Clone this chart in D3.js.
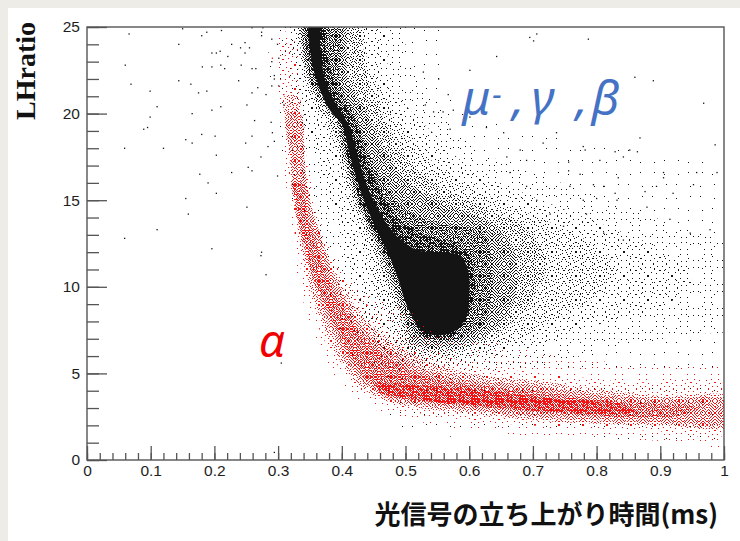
<!DOCTYPE html>
<html><head><meta charset="utf-8">
<script src="https://cdn.jsdelivr.net/npm/d3@7"></script>
<style>html,body{margin:0;padding:0;background:#fff;overflow:hidden}</style>
</head><body>
<svg id="c" width="740" height="541"></svg>
<script>
// ---------------- DATA ----------------
const xTickValues = [0,0.1,0.2,0.3,0.4,0.5,0.6,0.7,0.8,0.9,1];
const xTickLabels = ["0","0.1","0.2","0.3","0.4","0.5","0.6","0.7","0.8","0.9","1"];
const yTickValues = [0,5,10,15,20,25];
const yTickLabels = ["0","5","10","15","20","25"];
const xTitle = "光信号の立ち上がり時間(ms)";
const yTitle = "LHratio";

// density regions: [level, outline [[x,y],...]] ; level = point density (1 sparse ... 9 solid)
const blackRegions = [
  [1, [[.30,25.4],[.30,19],[.32,15],[.35,12],[.38,9],[.41,6.5],[.44,4.5],[.48,3.8],[.60,4.5],[.75,5.0],[.90,5.3],[1.01,5.3],[1.01,16.5],[.90,17.5],[.78,18.5],[.68,19.2],[.60,20],[.56,22],[.55,25.4]]],
  [1, [[.48,1.8],[.70,1.6],[1.01,1.5],[1.01,4.2],[.80,4.2],[.60,4.6],[.48,4.2]]],
  [2, [[.315,25.4],[.32,21],[.33,18],[.345,15],[.36,13],[.38,11],[.40,9],[.415,7.5],[.43,6.3],[.46,5.2],[.55,4.8],[.65,5.2],[.75,5.8],[.85,6.6],[.95,7.3],[1.01,7.6],[1.01,12.3],[.93,13.5],[.85,14.5],[.76,15.8],[.68,16.8],[.62,17.8],[.58,19],[.55,20.5],[.52,22],[.50,24],[.50,25.4]]],
  [3, [[.325,25.4],[.33,22],[.34,19.5],[.36,17.5],[.38,15.5],[.395,13.5],[.41,11.5],[.425,9.5],[.44,8],[.455,6.8],[.48,5.8],[.55,5.4],[.63,5.8],[.72,6.8],[.80,7.8],[.90,8.8],[.95,10.3],[.92,11.8],[.85,13],[.76,14.3],[.68,15.5],[.62,16.5],[.58,17.5],[.54,19],[.50,20.5],[.475,22],[.46,25.4]]],
  [4, [[.335,25.4],[.342,22],[.355,20.5],[.38,19],[.395,17.5],[.405,15.5],[.425,13.5],[.44,11.5],[.455,9.5],[.47,8.3],[.48,7.3],[.49,6.3],[.53,5.8],[.60,6.0],[.66,6.7],[.72,7.8],[.80,9.5],[.83,11],[.80,12.3],[.74,13.5],[.67,14.6],[.60,15.8],[.55,17],[.51,18.5],[.48,20],[.46,21.5],[.44,23],[.43,25.4]]],
  [5, [[.338,25.4],[.346,22],[.36,20.5],[.386,19],[.40,17.5],[.41,15.8],[.43,13.9],[.452,12],[.47,10.3],[.482,9],[.495,7.8],[.505,6.6],[.53,6.2],[.58,6.3],[.63,7.0],[.67,8.0],[.70,9.3],[.72,11],[.71,12.4],[.68,13.6],[.62,14.6],[.55,15.8],[.50,17.5],[.47,19.5],[.44,22],[.42,25.4]]],
  [6, [[.341,25.4],[.348,22],[.362,21],[.39,19.6],[.403,17.7],[.415,15.8],[.435,13.9],[.457,12.2],[.475,10.5],[.488,9],[.50,7.8],[.51,6.8],[.53,6.5],[.58,6.6],[.63,7.3],[.66,8.5],[.675,10],[.67,12],[.63,13.8],[.56,14.8],[.50,16.2],[.465,18],[.44,20],[.41,22],[.40,25.4]]],
  [7, [[.343,25.4],[.350,22],[.364,21],[.392,19.6],[.406,17.7],[.419,15.8],[.439,13.9],[.462,12.2],[.478,10.8],[.49,9.5],[.502,8.3],[.515,7.3],[.535,6.9],[.56,6.8],[.60,7.2],[.625,8],[.635,9.5],[.635,11.5],[.62,13.2],[.56,13.6],[.50,14.5],[.465,16],[.44,18],[.42,20],[.395,22],[.375,25.4]]],
  [7, [[.378,25.4],[.394,25.4],[.396,22],[.392,20.6],[.384,21.5],[.379,23]]],
  [8, [[.345,25.4],[.350,23],[.357,22],[.366,21.3],[.380,20.3],[.395,19.6],[.408,17.7],[.421,15.8],[.441,13.9],[.46,12.6],[.47,11.9],[.483,11],[.493,10],[.502,9],[.515,8.1],[.522,7.3],[.54,7.0],[.57,7.1],[.59,7.8],[.605,9],[.61,10.5],[.60,11.8],[.58,12.5],[.53,13],[.49,13.9],[.457,15.8],[.437,17.7],[.42,19.6],[.408,20.3],[.392,21.3],[.385,22.2],[.374,24],[.372,25.4]]],
  [9, [[.350,25.4],[.353,23],[.360,22],[.370,21],[.385,20],[.400,19.4],[.412,17.7],[.427,15.8],[.447,13.9],[.468,12.3],[.48,11.3],[.49,10.3],[.498,9.3],[.51,8.3],[.525,7.5],[.545,7.2],[.575,7.4],[.595,8.2],[.60,9.5],[.598,11],[.585,11.8],[.55,12],[.52,12.1],[.49,12.8],[.466,13.9],[.440,15.8],[.424,17.7],[.410,19.4],[.395,20.3],[.380,21.3],[.372,22.2],[.366,24],[.364,25.4]]]
];
const redRegions = [
  [2, [[.30,24.6],[.325,24.6],[.335,22],[.342,19],[.352,16],[.365,14],[.385,12],[.41,10.5],[.45,9.5],[.50,8.8],[.55,7.2],[.62,6.9],[.75,6.0],[.88,5.4],[1.01,5.0],[1.01,1.0],[.90,1.1],[.80,1.3],[.65,1.5],[.55,2.0],[.47,2.7],[.42,3.5],[.39,4.8],[.365,6.5],[.345,8.5],[.33,10.5],[.322,13],[.312,16],[.305,19],[.30,22]]],
  [3, [[.305,24.3],[.325,24.2],[.333,21.5],[.34,19],[.35,16],[.362,14],[.38,12],[.40,10.8],[.43,9.5],[.46,8],[.50,7.0],[.55,6.2],[.62,5.4],[.72,5.0],[.85,4.5],[1.01,4.3],[1.01,1.6],[.88,1.7],[.75,1.9],[.62,2.2],[.54,2.6],[.48,3.0],[.44,3.6],[.41,4.6],[.385,6.0],[.36,8.0],[.343,10],[.33,12],[.322,14.5],[.315,17],[.31,19.5],[.307,22]]],
  [5, [[.31,21],[.33,21],[.338,18],[.347,15.5],[.36,13.5],[.375,12],[.39,10.8],[.41,9.5],[.44,8],[.48,6.8],[.53,5.8],[.60,5.0],[.70,4.6],[.80,4.1],[.90,3.7],[1.01,3.6],[1.01,2.0],[.90,2.0],[.80,2.1],[.70,2.3],[.60,2.7],[.52,3.0],[.47,3.4],[.43,4.2],[.405,5.3],[.385,6.6],[.365,8.3],[.35,10],[.338,12],[.328,14],[.32,16.5],[.314,19]]],
  [6, [[.314,20],[.334,20],[.342,17],[.35,15],[.362,13.5],[.377,11.7],[.395,10],[.42,8.3],[.45,7.0],[.49,6.0],[.54,5.1],[.60,4.6],[.70,4.3],[.80,3.8],[.90,3.5],[1.01,3.4],[1.01,2.2],[.90,2.2],[.80,2.3],[.70,2.5],[.60,2.9],[.52,3.2],[.47,3.6],[.44,4.3],[.415,5.3],[.395,6.7],[.375,8.3],[.358,10],[.345,11.8],[.335,13.5],[.327,15.5],[.32,17.5]]],
  [7, [[.322,16],[.338,16],[.347,14],[.358,12.8],[.37,11.3],[.385,10],[.405,8.6],[.43,7.3],[.46,6.2],[.50,5.3],[.55,4.7],[.62,4.3],[.72,3.9],[.82,3.4],[.92,3.2],[.96,3.0],[.92,2.5],[.82,2.5],[.72,2.75],[.62,3.05],[.54,3.35],[.48,3.75],[.45,4.3],[.425,5.3],[.405,6.5],[.385,8],[.37,9.3],[.355,10.5],[.343,12],[.333,13.5],[.326,15]]],
  [8, [[.455,4.4],[.52,4.3],[.60,4.1],[.68,3.8],[.76,3.45],[.84,3.2],[.86,2.8],[.80,2.65],[.72,2.8],[.64,3.05],[.56,3.3],[.49,3.6],[.46,3.9]]]
];
// isolated points [x, y]
const blackPoints = [
  [.066,24.6],[.060,22.8],[.069,21.7],[.099,21.3],[.110,20.4],[.099,19.8],[.089,19.1],[.095,19.2],[.059,18.0],[.120,18.0],
  [.110,13.3],[.059,12.8],[.150,24.9],[.144,24.0],[.144,21.9],[.163,21.7],[.165,20.0],[.155,18.5],[.165,18.3],[.155,15.1],
  [.159,14.2],[.180,24.5],[.188,24.7],[.211,24.8],[.196,23.5],[.203,23.5],[.209,23.6],[.181,22.7],[.196,22.7],[.210,22.8],
  [.216,22.6],[.175,21.2],[.188,21.3],[.196,20.2],[.210,20.4],[.180,18.8],[.201,18.7],[.203,17.6],[.177,16.5],[.190,16.0],
  [.203,15.4],[.196,12.2],[.227,24.0],[.241,23.8],[.248,24.1],[.255,23.8],[.248,23.5],[.221,23.3],[.242,22.8],[.259,22.6],
  [.265,22.6],[.238,21.9],[.259,21.2],[.268,21.5],[.251,20.5],[.263,19.6],[.259,18.7],[.249,18.3],[.273,17.5],[.227,16.6],
  [.253,16.9],[.259,16.7],[.251,14.6],[.274,12.0],[.273,11.8],[.281,10.7],[.305,5.6],[.259,24.96],[.276,24.96],[.274,24.7],
  [.274,24.5],[.290,24.3],[.299,24.0],[.290,23.0],[.301,23.2],[.294,22.2],[.294,22.0],[.290,21.6],[.301,21.6],[.281,21.1],
  [.289,19.5],[.291,18.9],[.294,18.4],[.284,18.1],[.309,20.5],[.299,16.4],[.294,0.44],
  [.695,24.4],[.701,24.2],[.706,24.6],[.787,24.3],[.643,23.3],[.601,22.5],[.528,22.4],[.552,22.0],[.860,22.1],[.889,21.9],
  [.968,20.6],[.986,18.2],[.989,16.6],[.868,18.6],[.852,17.9],[.842,17.5],[.805,17.3],[.737,18.9],[.779,18.1],[.716,18.3],
  [.680,17.9],[.690,17.3],[.659,17.5],[.905,16.6],[.894,15.8],[.920,15.4],[.957,16.6],[.758,15.8],[.779,15.0],[.811,15.8],
  [.832,15.0],[.879,14.6],[.915,13.9],[.947,13.1],[.978,13.3],[.727,14.2],[.748,13.5],[.784,14.2],[.811,13.1],[.842,12.7],
  [.690,15.8],[.706,15.0],[.664,16.6],[.627,19.2],[.654,18.9],[.575,20.2],[.601,19.8],[.570,19.1],[.531,20.5],[.544,20.1],
  [.559,20.1],[.567,21.1],[.782,17.9],[.829,17.8],[.864,17.8],[.756,17.2],[.756,16.7],[.774,16.5],[.952,15.9],[.834,16.3],
  [.905,16.3],[.876,15.5],[.829,15.4],[.800,15.1],[.795,15.9]
];
const redPoints = [[.309,21.1],[.291,23.2]];

// annotation labels: [text, x, y] in data units
const blueLabel = [["μ",.589,19.9],["-",.636,19.9],[",",.667,19.9],["γ",.698,19.9],[",",.767,19.9],["β",.792,19.9]];
const alphaLabel = ["α",.270,5.95];

// ---------------- DRAWING ----------------
const W = 740, H = 541;
const svg = d3.select("#c");
svg.append("rect").attr("width",W).attr("height",H).attr("fill","#eeece6");
svg.append("rect").attr("x",8).attr("y",8).attr("width",W-8).attr("height",H-8).attr("fill","#ffffff");

const x = d3.scaleLinear().domain([0,1]).range([87,724]);
const y = d3.scaleLinear().domain([0,25]).range([460,27]);

const defs = svg.append("defs");
defs.append("clipPath").attr("id","plotclip").append("rect")
  .attr("x",x(0)).attr("y",y(25)).attr("width",x(1)-x(0)).attr("height",y(0)-y(25));

// stipple fill styles: dither order inside a 12x12 cell, mirrored per quadrant of the tile
const ditherOrder = [[2,3],[8,9],[9,2],[3,8],[6,5],[0,11],[11,6],[5,0],[1,6],[7,1],[10,10],[4,11],[6,8],[0,2],[10,4],[4,5],
  [8,6],[2,10],[11,0],[5,3],[7,11],[1,4],[9,8],[3,1],[7,4],[0,8],[11,9],[4,2],[6,10],[2,7],[9,5],[1,1],[8,3],[5,9],[10,1],
  [3,5],[7,7],[0,5],[11,3],[4,8],[6,2],[1,9],[9,11],[3,11],[8,0],[2,0],[10,7],[5,7],[6,0],[0,10],[11,11],[3,3],[8,11],[1,2],
  [9,9],[5,11],[7,9],[2,5],[10,6],[4,0],[6,6],[0,7],[11,2],[3,10],[7,3],[1,11],[10,9],[5,1],[8,5],[2,2],[4,6],[9,3]];
const levelSpec = [null,{n:4,k:2},{n:3,k:1},{n:8,k:1},{n:16,k:1},{n:30,k:1},{n:50,k:1},{n:72,k:1},{n:72,k:1,dbl:true}];
const quad = [(a,b)=>[a,b],(a,b)=>[11-a,b],(a,b)=>[a,11-b],(a,b)=>[b,a]];
const colors = {k:"#141414", r:"#f01414"};
const offsets = {k:[0,0], r:[7,5]};
for (const key of ["k","r"]) {
  for (let L = 1; L <= 8; L++) {
    const s = levelSpec[L], t = 24*s.k;
    const p = defs.append("pattern").attr("id",`p-${key}-${L}`).attr("patternUnits","userSpaceOnUse")
      .attr("width",t).attr("height",t)
      .attr("patternTransform",`translate(${offsets[key][0]},${offsets[key][1]})`);
    let pts = [];
    quad.forEach((f,qi)=>{
      const ox = (qi%2)*12, oy = Math.floor(qi/2)*12;
      ditherOrder.slice(0,s.n).forEach(([a,b])=>{const [u,v]=f(a,b); pts.push([(ox+u)*s.k,(oy+v)*s.k]);});
    });
    if (s.dbl) pts = pts.concat(pts.map(d=>[(d[0]+1)%t,(d[1]+1)%t]));
    p.selectAll("rect").data(pts).join("rect")
      .attr("x",d=>d[0]).attr("y",d=>d[1]).attr("width",1).attr("height",1)
      .attr("fill",colors[key]).attr("shape-rendering","crispEdges");
  }
}
const fillFor = (key,L) => L >= 9 ? colors[key] : `url(#p-${key}-${L})`;

const plot = svg.append("g").attr("clip-path","url(#plotclip)");
const outline = d3.line().x(d=>x(d[0])).y(d=>y(d[1])).curve(d3.curveCatmullRomClosed.alpha(0.5));
function drawRegions(data,key){
  plot.append("g").selectAll("path").data(data).join("path")
    .attr("d",d=>outline(d[1])).attr("fill",d=>fillFor(key,d[0]));
}
function drawPoints(data,key){
  plot.append("g").selectAll("rect").data(data).join("rect")
    .attr("x",d=>x(d[0])-0.6).attr("y",d=>y(d[1])-0.6).attr("width",1.3).attr("height",1.3)
    .attr("fill",colors[key]);
}
drawRegions(blackRegions,"k");
drawPoints(blackPoints,"k");
drawRegions(redRegions,"r");
drawPoints(redPoints,"r");

// axes (ROOT style: ticks inside)
const axisColor = "#555";
const tickFont = "'Liberation Sans', Arial, Helvetica, sans-serif";
function styleAxis(g){
  g.select(".domain").remove();
  g.selectAll("line").attr("stroke",axisColor).attr("stroke-width",1.3);
  g.selectAll("text").attr("font-family",tickFont).attr("font-size",15.5).attr("fill","#1e1e1e");
}
svg.append("g").attr("transform",`translate(0,${y(0)})`)
  .call(d3.axisBottom(x).tickValues(d3.range(0,1.0001,0.02)).tickSize(-7).tickFormat(""))
  .call(styleAxis);
svg.append("g").attr("transform",`translate(0,${y(0)})`)
  .call(d3.axisBottom(x).tickValues(xTickValues).tickSize(-14).tickPadding(5)
    .tickFormat((d,i)=>xTickLabels[i]))
  .call(styleAxis);
svg.append("g").attr("transform",`translate(${x(0)},0)`)
  .call(d3.axisLeft(y).tickValues(d3.range(0,25.001,1)).tickSize(-12).tickFormat(""))
  .call(styleAxis);
svg.append("g").attr("transform",`translate(${x(0)},0)`)
  .call(d3.axisLeft(y).tickValues(yTickValues).tickSize(-20).tickPadding(7)
    .tickFormat((d,i)=>yTickLabels[i]))
  .call(styleAxis);

// frame
svg.append("rect").attr("x",x(0)).attr("y",y(25)).attr("width",x(1)-x(0)).attr("height",y(0)-y(25))
  .attr("fill","none").attr("stroke",axisColor).attr("stroke-width",1.4);

// titles
svg.append("text").attr("x",718).attr("y",524).attr("text-anchor","end")
  .attr("font-family","'Noto Sans CJK JP', 'Noto Sans CJK SC', sans-serif").attr("font-weight","bold")
  .attr("font-size",26).attr("fill","#111").text(xTitle);
svg.append("text").attr("transform","translate(35,71) rotate(-90)").attr("text-anchor","middle")
  .attr("font-family","'Liberation Serif', 'Times New Roman', serif").attr("font-weight","bold")
  .attr("font-size",28).attr("fill","#111").text(yTitle);

// annotations
svg.append("g").selectAll("text").data(blueLabel).join("text")
  .attr("x",d=>x(d[1])).attr("y",d=>y(d[2]) - (d[0]==="-" ? 10 : 0))
  .attr("font-family","'Noto Sans', 'Open Sans', sans-serif").attr("font-style","italic")
  .attr("font-size",d=>d[0]==="-" ? 30 : 48).attr("fill","#4472c4").text(d=>d[0]);
svg.append("text").attr("x",x(alphaLabel[1])).attr("y",y(alphaLabel[2]))
  .attr("font-family","'Noto Sans', 'Open Sans', sans-serif").attr("font-style","italic")
  .attr("font-size",46).attr("fill","#f00000").text(alphaLabel[0]);
</script>
</body></html>
